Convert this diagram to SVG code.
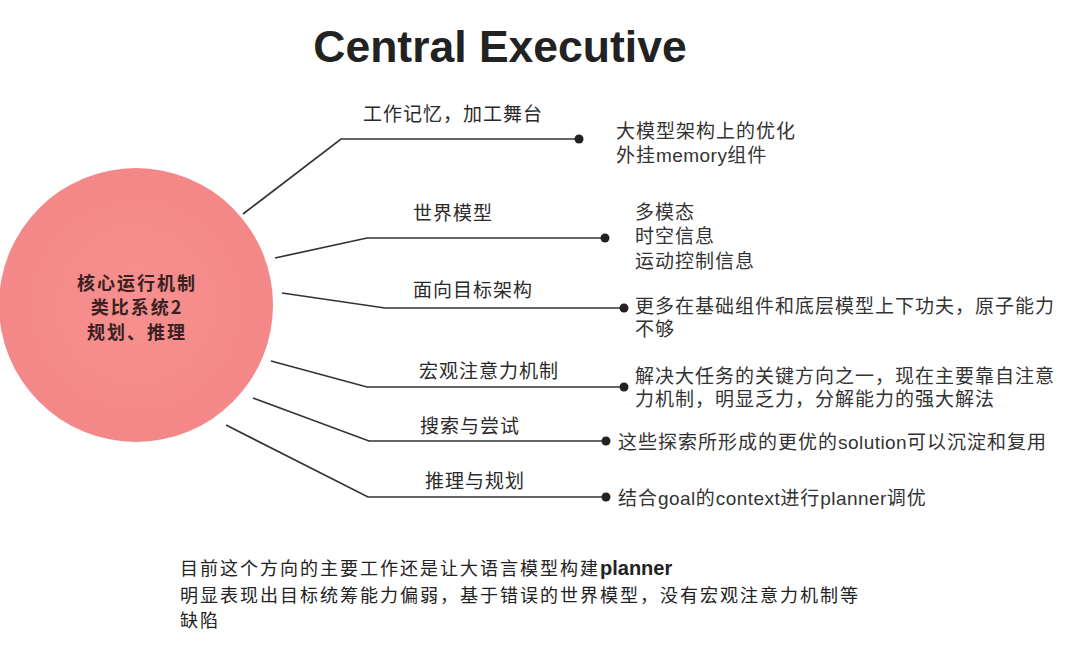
<svg xmlns="http://www.w3.org/2000/svg" width="1080" height="649" viewBox="0 0 1080 649">
<defs>
<radialGradient id="cg" cx="50%" cy="50%" r="50%">
<stop offset="0" stop-color="#f79090"/>
<stop offset="1" stop-color="#f48787"/>
</radialGradient>
</defs>
<style>
.title{font-family:"Liberation Sans",Arial,sans-serif;font-weight:bold;font-size:44.5px;fill:#222}
.lbl{font-family:"Noto Sans CJK SC",sans-serif;font-size:19px;fill:#2a2a2a;letter-spacing:1px}
.desc{font-family:"Liberation Sans","Noto Sans CJK SC",sans-serif;font-size:19px;fill:#333;letter-spacing:1px}
.lat{letter-spacing:0.45px}
.ctr{font-family:"Noto Sans CJK SC",sans-serif;font-size:18px;font-weight:bold;fill:#3a2222;letter-spacing:2px}
.note{font-family:"Liberation Sans","Noto Sans CJK SC",sans-serif;font-size:18px;fill:#222;letter-spacing:2px}
.conn{fill:none;stroke:#333;stroke-width:1.7}
.dot{fill:#222}
</style>
<rect width="1080" height="649" fill="#fff"/>
<text class="title" x="500" y="62" text-anchor="middle">Central Executive</text>

<g id="connectors">
<polyline class="conn" points="243,214 341,139 579,139"/>
<circle class="dot" cx="579" cy="139" r="4.5"/>
<polyline class="conn" points="275,258 367,238 605,238"/>
<circle class="dot" cx="605" cy="238" r="4.5"/>
<polyline class="conn" points="282,293 385,308 624,308"/>
<circle class="dot" cx="624" cy="308" r="4.5"/>
<polyline class="conn" points="271,361 367,387 624,387"/>
<circle class="dot" cx="624" cy="387" r="4.5"/>
<polyline class="conn" points="253,398 369,441 606,441"/>
<circle class="dot" cx="606" cy="441" r="4.5"/>
<polyline class="conn" points="226,425 368,497 606,497"/>
<circle class="dot" cx="606" cy="497" r="4.5"/>
</g>

<g id="center">
<circle cx="136" cy="305" r="137" fill="url(#cg)"/>
<text class="ctr" x="137" y="290" text-anchor="middle">核心运行机制</text>
<text class="ctr" x="137" y="314" text-anchor="middle">类比系统2</text>
<text class="ctr" x="137" y="339" text-anchor="middle">规划、推理</text>
</g>

<g id="label-memory"><text class="lbl" x="363" y="121">工作记忆，加工舞台</text></g>
<g id="label-world"><text class="lbl" x="413" y="220">世界模型</text></g>
<g id="label-goal"><text class="lbl" x="413" y="297">面向目标架构</text></g>
<g id="label-attention"><text class="lbl" x="419" y="378">宏观注意力机制</text></g>
<g id="label-search"><text class="lbl" x="420" y="433">搜索与尝试</text></g>
<g id="label-reason"><text class="lbl" x="425" y="488">推理与规划</text></g>

<g id="desc-memory">
<text class="desc" x="616" y="138">大模型架构上的优化</text>
<text class="desc" x="616" y="162">外挂<tspan class="lat">memory</tspan>组件</text>
</g>
<g id="desc-world">
<text class="desc" x="635" y="219">多模态</text>
<text class="desc" x="635" y="243">时空信息</text>
<text class="desc" x="635" y="268">运动控制信息</text>
</g>
<g id="desc-goal">
<text class="desc" x="635" y="313">更多在基础组件和底层模型上下功夫，原子能力</text>
<text class="desc" x="635" y="336">不够</text>
</g>
<g id="desc-attention">
<text class="desc" x="635" y="383">解决大任务的关键方向之一，现在主要靠自注意</text>
<text class="desc" x="635" y="406">力机制，明显乏力，分解能力的强大解法</text>
</g>
<g id="desc-search"><text class="desc" x="618" y="449">这些探索所形成的更优的<tspan class="lat">solution</tspan>可以沉淀和复用</text></g>
<g id="desc-reason"><text class="desc" x="618" y="505">结合<tspan class="lat">goal</tspan>的<tspan class="lat">context</tspan>进行<tspan class="lat">planner</tspan>调优</text></g>

<g id="note">
<text class="note" x="180" y="575">目前这个方向的主要工作还是让大语言模型构建<tspan font-weight="bold" font-size="20" letter-spacing="0">planner</tspan></text>
<text class="note" x="180" y="602">明显表现出目标统筹能力偏弱，基于错误的世界模型，没有宏观注意力机制等</text>
<text class="note" x="180" y="627">缺陷</text>
</g>
</svg>
